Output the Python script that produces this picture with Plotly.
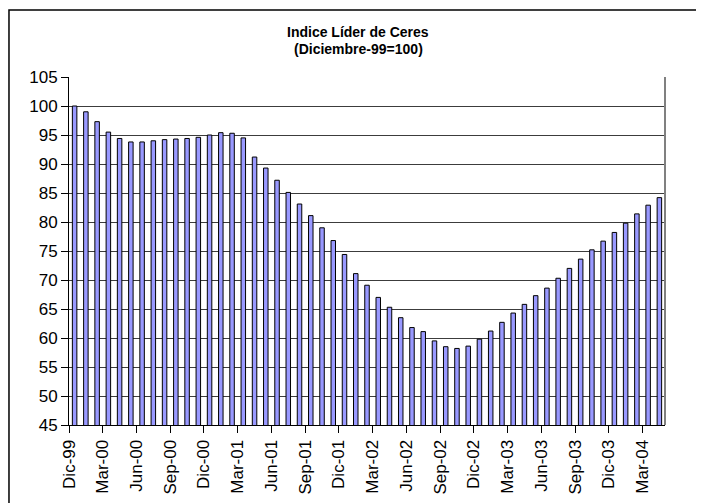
import plotly.graph_objects as go

# ---- data ----
month_names = ["Dic", "Ene", "Feb", "Mar", "Abr", "May", "Jun", "Jul", "Ago", "Sep", "Oct", "Nov"]
start_year = 1999
values = [
    100.0, 99.0, 97.3, 95.5, 94.4, 93.8, 93.8, 94.0, 94.2, 94.3, 94.4, 94.6,
    95.0, 95.4, 95.3, 94.5, 91.2, 89.3, 87.2, 85.1, 83.1, 81.1, 79.0, 76.8,
    74.4, 71.1, 69.1, 67.0, 65.3, 63.5, 61.8, 61.1, 59.5, 58.5, 58.2, 58.6,
    59.8, 61.2, 62.7, 64.3, 65.8, 67.3, 68.6, 70.3, 72.0, 73.6, 75.2, 76.7,
    78.2, 79.8, 81.4, 82.9, 84.2,
]
title_line1 = "Indice Líder de Ceres"
title_line2 = "(Diciembre-99=100)"

# category labels
categories = []
for i in range(len(values)):
    m = i % 12
    yr = start_year + (i + 11) // 12
    categories.append(f"{month_names[m]}-{yr % 100:02d}")

x_idx = list(range(len(values)))
label_step = 3
tick_pos = [i - 0.5 for i in x_idx[::label_step]]
tick_txt = categories[::label_step]

FONT = "Arial, Liberation Sans, sans-serif"

fig = go.Figure()
fig.add_trace(go.Bar(
    x=x_idx, y=values,
    marker=dict(color="#9999FF", line=dict(color="#000000", width=1)),
    width=0.4,
    hoverinfo="x+y",
))

# page has an 8px body margin, so the figure is sized to fit the 704x503 window
fig.update_layout(
    width=696, height=495,
    margin=dict(l=61, r=39, t=69, b=78, autoexpand=False),
    paper_bgcolor="white", plot_bgcolor="white",
    showlegend=False,
    font=dict(family=FONT, color="black"),
    xaxis=dict(
        range=[-0.5, len(values) - 0.5], automargin=False,
        tickmode="array", tickvals=tick_pos, ticktext=tick_txt,
        tickangle=-90, ticks="outside", ticklen=7, tickcolor="black",
        tickfont=dict(size=17, family=FONT, color="black"),
        showgrid=False, zeroline=False,
        showline=True, linecolor="black", linewidth=1,
    ),
    yaxis=dict(
        range=[45, 105], dtick=5, tick0=45, automargin=False,
        ticks="outside", ticklen=7, tickcolor="black",
        tickfont=dict(size=17, family=FONT, color="black"),
        showgrid=True, gridcolor="#3c3c3c", gridwidth=1,
        zeroline=False, showline=True, linecolor="black", linewidth=1,
    ),
    annotations=[
        dict(text=f"<b>{title_line1}</b>", xref="paper", yref="paper",
             x=0.485, y=1.130, xanchor="center", yanchor="middle",
             showarrow=False, font=dict(size=14, family=FONT, color="black")),
        dict(text=f"<b>{title_line2}</b>", xref="paper", yref="paper",
             x=0.485, y=1.080, xanchor="center", yanchor="middle",
             showarrow=False, font=dict(size=14, family=FONT, color="black")),
    ],
    shapes=[
        # plot area right border (grey)
        dict(type="line", xref="paper", yref="paper", x0=1, x1=1, y0=0, y1=1,
             line=dict(color="#808080", width=2)),
        # outer chart frame
        dict(type="rect", xref="paper", yref="paper",
             x0=-0.1007, x1=1.2, y0=-0.4, y1=1.1925,
             line=dict(color="black", width=1.5)),
    ],
)

fig.write_html("out.html")
